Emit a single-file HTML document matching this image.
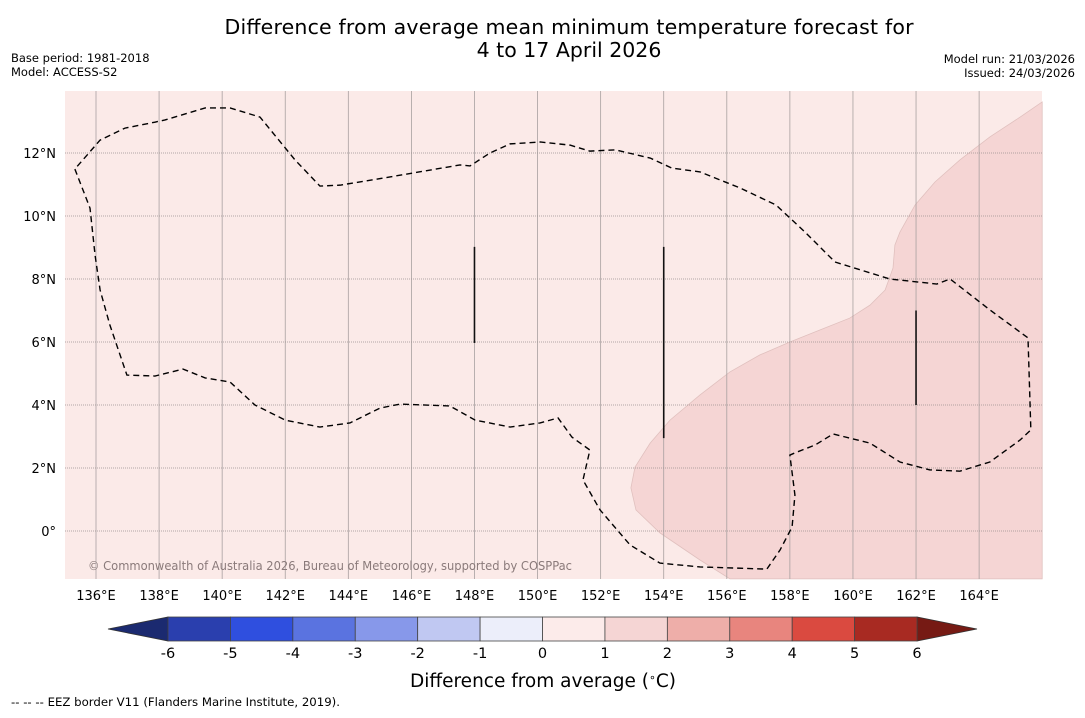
<!DOCTYPE html>
<html><head><meta charset="utf-8"><style>
body{margin:0;background:#fff;}
svg text{font-family:"DejaVu Sans","Liberation Sans",sans-serif;}
</style></head><body>
<svg id="c" width="1085" height="713" xmlns="http://www.w3.org/2000/svg">
<text x="569" y="34" font-size="20.5" text-anchor="middle" textLength="689">Difference from average mean minimum temperature forecast for</text>
<text x="569" y="57" font-size="20.5" text-anchor="middle">4 to 17 April 2026</text>
<text x="11" y="62" font-size="11.5">Base period: 1981-2018</text>
<text x="11" y="76" font-size="11.5">Model: ACCESS-S2</text>
<text x="1075" y="63" font-size="11.5" text-anchor="end">Model run: 21/03/2026</text>
<text x="1075" y="77" font-size="11.5" text-anchor="end">Issued: 24/03/2026</text>
<g id="map"></g>
<g id="cbar"></g>
<text x="543" y="687" font-size="18.5" text-anchor="middle">Difference from average (<tspan baseline-shift="super" font-size="11">∘</tspan>C)</text>
<text x="11" y="706" font-size="11.5" textLength="329" lengthAdjust="spacingAndGlyphs">--  --  -- EEZ border V11 (Flanders Marine Institute, 2019).</text>
</svg>
<script>
const lonTicks=[136,138,140,142,144,146,148,150,152,154,156,158,160,162,164];
const latTicks=[0,2,4,6,8,10,12];
const eezLon=[135.33,135.81,135.97,136.13,136.44,136.98,137.87,138.76,139.46,140.25,141.04,142.0,143.1,144.05,145.0,145.64,147.22,148.02,149.13,150.08,150.65,151.09,151.66,151.44,151.98,152.93,153.88,155.15,157.27,157.69,158.07,158.16,158.0,158.16,158.8,159.37,160.54,161.49,162.44,163.39,164.34,165.3,165.64,165.55,164.34,163.08,162.66,161.17,159.43,158.48,157.56,156.42,155.15,154.26,153.57,152.46,151.66,151.03,150.08,149.13,148.49,147.86,147.54,145.32,143.74,143.1,142.31,141.2,140.25,139.46,138.19,137.87,136.92,136.13,135.33];
const eezLat=[11.49,10.25,8.76,7.65,6.54,4.95,4.92,5.14,4.86,4.73,4.0,3.52,3.3,3.43,3.9,4.03,3.97,3.52,3.3,3.43,3.59,2.98,2.57,1.62,0.67,-0.44,-1.02,-1.14,-1.21,-0.6,0.13,1.14,2.41,2.48,2.73,3.08,2.79,2.19,1.94,1.9,2.19,2.89,3.21,6.13,7.02,8.0,7.84,8.0,8.54,9.49,10.35,10.89,11.4,11.52,11.84,12.1,12.06,12.25,12.35,12.29,12.0,11.59,11.62,11.24,10.98,10.95,11.78,13.14,13.43,13.43,13.05,12.98,12.79,12.41,11.49];
const warmLon=[166.0,165.3,164.34,163.39,162.6,161.97,161.49,161.33,161.27,161.02,160.54,159.9,158.95,158.0,157.05,156.1,155.15,154.2,153.57,153.09,152.96,153.12,153.88,155.15,156.1,166.0];
const warmLat=[13.62,13.14,12.51,11.78,11.08,10.35,9.49,9.08,8.35,7.65,7.17,6.76,6.38,6.0,5.59,5.05,4.32,3.52,2.79,2.03,1.37,0.67,-0.06,-0.92,-1.52,-1.52];
const segLon=[148,154,162];
const segLat0=[9.02,9.02,7.0];
const segLat1=[5.97,2.95,4.0];
const cbLevels=[-6,-5,-4,-3,-2,-1,0,1,2,3,4,5,6];
const cbColors=['#2a3fae','#2f4fdf','#5a73e0','#8798ea','#c0c8f2','#eceefa','#fcebea','#f5d5d4','#eeaea9','#e8857e','#da4a40','#a82a22'];
const NS='http://www.w3.org/2000/svg';
const X=lon=>96+(lon-136)*31.54, Y=lat=>531-lat*31.5;
function mk(t,a,p){const e=document.createElementNS(NS,t);for(const k in a)e.setAttribute(k,a[k]);p.appendChild(e);return e;}
const m=document.getElementById('map');
const bg=mk('rect',{x:65,y:91,width:977,height:488,fill:'#fbeae8'},m);


const w=mk('polygon',{points:warmLon.map((v,i)=>X(v)+','+Y(warmLat[i])).join(' '),fill:'#f5d5d4',stroke:'#e0c0be','stroke-width':0.8},m);


lonTicks.forEach(l=>{const x=X(l);
const g=mk('line',{x1:x,x2:x,y1:91,y2:579,stroke:'#a8a0a0','stroke-width':0.8},m);


const t=mk('text',{x:x,y:600,'font-size':13,'text-anchor':'middle'},m);t.textContent=l+'°E';

});
latTicks.forEach(l=>{const y=Y(l);
const g=mk('line',{x1:65,x2:1042,y1:y,y2:y,stroke:'#9a9090','stroke-width':0.8,'stroke-dasharray':'1,1'},m);


const t=mk('text',{x:56,y:y+5,'font-size':13,'text-anchor':'end'},m);t.textContent=l===0?'0°':l+'°N';

});
const e=mk('polyline',{points:eezLon.map((v,i)=>X(v)+','+Y(eezLat[i])).join(' '),fill:'none',stroke:'#000','stroke-width':1.4,'stroke-dasharray':'6,4'},m);


segLon.forEach((l,i)=>{const s=mk('line',{x1:X(l),x2:X(l),y1:Y(segLat0[i]),y2:Y(segLat1[i]),stroke:'#111','stroke-width':1.6},m);

});
const ct=mk('text',{x:88,y:570,'font-size':12,fill:'#8a7a7a',textLength:484,lengthAdjust:'spacingAndGlyphs'},m);ct.textContent='© Commonwealth of Australia 2026, Bureau of Meteorology, supported by COSPPac';


const c=document.getElementById('cbar');
const CX=v=>168+(v+6)*62.42, y0=617, y1=641;
const le=mk('polygon',{points:`108,629 ${CX(-6)},${y0} ${CX(-6)},${y1}`,fill:'#1b2a70',stroke:'#333','stroke-width':0.8},c);


const re=mk('polygon',{points:`977,629 ${CX(6)},${y0} ${CX(6)},${y1}`,fill:'#761a14',stroke:'#333','stroke-width':0.8},c);


cbColors.forEach((col,i)=>{const r=mk('rect',{x:CX(cbLevels[i]),y:y0,width:CX(cbLevels[i+1])-CX(cbLevels[i]),height:y1-y0,fill:col,stroke:'#444','stroke-width':0.8},c);

});
cbLevels.forEach(v=>{const t=mk('text',{x:CX(v),y:658,'font-size':14.5,'text-anchor':'middle'},c);t.textContent=v;

});
</script>
</body></html>
